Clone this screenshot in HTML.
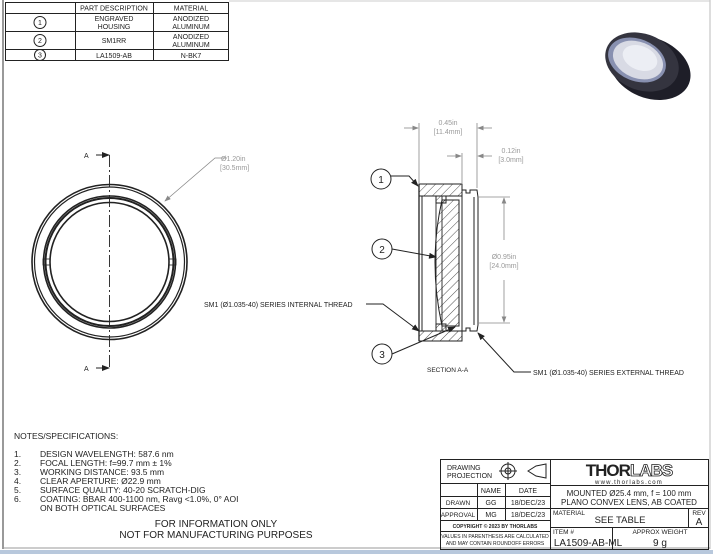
<!DOCTYPE html>
<html><head><style>
html,body{margin:0;padding:0;background:#fff;}
svg{display:block;font-family:"Liberation Sans",sans-serif;}
</style></head><body>
<svg width="713" height="554" viewBox="0 0 713 554" xmlns="http://www.w3.org/2000/svg">
<defs>
<pattern id="h" width="6" height="6" patternUnits="userSpaceOnUse" patternTransform="rotate(45)">
<line x1="0" y1="0" x2="0" y2="6" stroke="#222" stroke-width="0.8"/></pattern>
<marker id="ar" markerWidth="8" markerHeight="6" refX="7" refY="3" orient="auto"><path d="M0,0 L8,3 L0,6z" fill="#222"/></marker>
<marker id="ag" markerWidth="8" markerHeight="6" refX="7" refY="3" orient="auto"><path d="M0,0 L8,3 L0,6z" fill="#888"/></marker>
</defs>
<rect width="713" height="554" fill="#fff"/>
<line x1="3" y1="0" x2="3" y2="549" stroke="#999" stroke-width="2"/>
<line x1="710" y1="0" x2="710" y2="549" stroke="#bbb" stroke-width="1"/>
<line x1="3" y1="548" x2="710" y2="548" stroke="#999" stroke-width="1"/>
<rect x="0" y="550" width="713" height="4" fill="#b8c8dc"/>

<!-- parts table -->
<g stroke="#222" stroke-width="1" fill="none">
<rect x="5.5" y="2.5" width="223" height="58"/>
<line x1="5" y1="13.5" x2="229" y2="13.5"/>
<line x1="5" y1="31.5" x2="229" y2="31.5"/>
<line x1="5" y1="49.5" x2="229" y2="49.5"/>
<line x1="75.5" y1="2" x2="75.5" y2="61"/>
<line x1="153.5" y1="2" x2="153.5" y2="61"/>
<circle cx="40" cy="22.5" r="6"/><circle cx="40" cy="40.5" r="6"/><circle cx="40" cy="55" r="5.5"/>
</g>
<g font-size="7" fill="#222" text-anchor="middle">
<text x="114" y="10.5">PART DESCRIPTION</text><text x="191" y="10.5">MATERIAL</text>
<text x="114" y="21">ENGRAVED</text><text x="114" y="29">HOUSING</text>
<text x="191" y="21">ANODIZED</text><text x="191" y="29">ALUMINUM</text>
<text x="114" y="43">SM1RR</text>
<text x="191" y="39">ANODIZED</text><text x="191" y="47">ALUMINUM</text>
<text x="114" y="58">LA1509-AB</text><text x="191" y="58">N-BK7</text>
<text x="40" y="25" font-size="7">1</text><text x="40" y="43" font-size="7">2</text><text x="40" y="57.5" font-size="7">3</text>
</g>
<line x1="229" y1="1" x2="710" y2="1" stroke="#ccc"/>

<!-- product photo -->
<g>
<ellipse cx="650" cy="68" rx="42" ry="30" transform="rotate(22 650 68)" fill="#1e1e28"/>
<ellipse cx="642" cy="62" rx="38" ry="28" transform="rotate(22 642 62)" fill="#34343f"/>
<ellipse cx="637" cy="60" rx="30" ry="21" transform="rotate(22 637 60)" fill="#8890b0"/>
<ellipse cx="638" cy="60" rx="26" ry="18" transform="rotate(22 638 60)" fill="#d8dae4"/>
<ellipse cx="640" cy="58" rx="18" ry="12" transform="rotate(22 640 58)" fill="#eceef4"/>
</g>

<!-- front view -->
<g stroke="#222" fill="none">
<circle cx="109.5" cy="262" r="77.5" stroke-width="1.6"/>
<circle cx="109.5" cy="262" r="75" stroke-width="1.2"/>
<circle cx="109.5" cy="262" r="66" stroke-width="1.6"/>
<circle cx="109.5" cy="262" r="64" stroke-width="2"/>
<circle cx="109.5" cy="262" r="59.5" stroke-width="1.6"/>
<rect x="43" y="259" width="7" height="6" stroke-width="0.8"/>
<rect x="169" y="259" width="7" height="6" stroke-width="0.8"/>
<line x1="109.5" y1="155" x2="109.5" y2="369" stroke-width="0.9" stroke-dasharray="12,3,2,3"/>
<line x1="96" y1="155" x2="109" y2="155" stroke-width="1" marker-end="url(#ar)"/>
<line x1="96" y1="368" x2="109" y2="368" stroke-width="1" marker-end="url(#ar)"/>
<polyline points="227,158 215,158 165,201" stroke="#888" stroke-width="0.8" marker-end="url(#ag)"/>
</g>
<g font-size="7" fill="#222"><text x="84" y="158">A</text><text x="84" y="371">A</text></g>
<g font-size="7" fill="#999"><text x="221" y="161">Ø1.20in</text><text x="220" y="170">[30.5mm]</text></g>

<!-- section view -->
<g stroke="#222" fill="none" stroke-width="1">
<path d="M419,184 L462,184 L462,196 L422,196 L422,196 L419,196 Z" fill="url(#h)"/>
<path d="M419,331 L462,331 L462,341 L419,341 Z" fill="url(#h)"/>
<line x1="419" y1="184" x2="419" y2="341" stroke-width="1.3"/>
<line x1="422" y1="196" x2="422" y2="331"/>
<path d="M462,190 L466,190 L466,193 L470,193 L470,190 L477,190 L478,197 L478,325 L477,331 L470,331 L470,328 L466,328 L466,331 L462,331"/>
<line x1="474" y1="197" x2="474" y2="325"/>
<line x1="462" y1="196" x2="462" y2="331"/>
<rect x="436" y="196" width="6" height="135" stroke-width="0.9"/>
<rect x="436" y="196" width="10" height="7" fill="url(#h)"/>
<rect x="436" y="324" width="10" height="7" fill="url(#h)"/>
<path d="M442,200 Q428,262 442,326 L459,326 L459,200 Z" fill="url(#h)"/>
<g stroke="#888" stroke-width="0.8">
<line x1="419" y1="123" x2="419" y2="183"/>
<line x1="477" y1="123" x2="477" y2="188"/>
<line x1="462" y1="153" x2="462" y2="183"/>
<line x1="404" y1="128" x2="418" y2="128" marker-end="url(#ag)"/>
<line x1="492" y1="128" x2="478" y2="128" marker-end="url(#ag)"/>
<line x1="447" y1="156" x2="461" y2="156" marker-end="url(#ag)"/>
<line x1="492" y1="156" x2="478" y2="156" marker-end="url(#ag)"/>
<line x1="478" y1="197" x2="510" y2="197"/>
<line x1="478" y1="323" x2="510" y2="323"/>
<line x1="504" y1="240" x2="504" y2="198" marker-end="url(#ag)"/>
<line x1="504" y1="280" x2="504" y2="322" marker-end="url(#ag)"/>
</g>
<circle cx="381" cy="179" r="10"/>
<polyline points="391,176 409,176 418,186" marker-end="url(#ar)"/>
<circle cx="382" cy="249" r="10"/>
<line x1="392" y1="249" x2="436" y2="257" marker-end="url(#ar)"/>
<circle cx="382" cy="354" r="10"/>
<line x1="392" y1="354" x2="455" y2="327" marker-end="url(#ar)"/>
<polyline points="366,304 383,304 419,331" marker-end="url(#ar)"/>
<polyline points="531,372 514,372 478,333" marker-end="url(#ar)"/>
</g>
<g font-size="10" fill="#222" text-anchor="middle"><text x="381" y="183">1</text><text x="382" y="253">2</text><text x="382" y="358">3</text></g>
<g font-size="7" fill="#999" text-anchor="middle">
<text x="448" y="125">0.45in</text><text x="448" y="134">[11.4mm]</text>
<text x="511" y="153">0.12in</text><text x="511" y="162">[3.0mm]</text>
<text x="504" y="259">Ø0.95in</text><text x="504" y="268">[24.0mm]</text>
</g>
<g font-size="7" fill="#222">
<text x="204" y="307">SM1 (Ø1.035-40) SERIES INTERNAL THREAD</text>
<text x="533" y="375">SM1 (Ø1.035-40) SERIES EXTERNAL THREAD</text>
<text x="427" y="372" font-size="6.5">SECTION A-A</text>
</g>

<!-- notes -->
<g font-size="8.5" fill="#222">
<text x="14" y="439">NOTES/SPECIFICATIONS:</text>
<text x="14" y="457">1.</text><text x="40" y="457">DESIGN WAVELENGTH: 587.6 nm</text>
<text x="14" y="466">2.</text><text x="40" y="466">FOCAL LENGTH: f=99.7 mm ± 1%</text>
<text x="14" y="475">3.</text><text x="40" y="475">WORKING DISTANCE: 93.5 mm</text>
<text x="14" y="484">4.</text><text x="40" y="484">CLEAR APERTURE: Ø22.9 mm</text>
<text x="14" y="493">5.</text><text x="40" y="493">SURFACE QUALITY: 40-20 SCRATCH-DIG</text>
<text x="14" y="502">6.</text><text x="40" y="502">COATING: BBAR 400-1100 nm, Ravg &lt;1.0%, 0° AOI</text>
<text x="40" y="511">ON BOTH OPTICAL SURFACES</text>
<text x="216" y="527" font-size="10" text-anchor="middle">FOR INFORMATION ONLY</text>
<text x="216" y="538" font-size="10" text-anchor="middle">NOT FOR MANUFACTURING PURPOSES</text>
</g>

<!-- title block -->
<g stroke="#222" stroke-width="1" fill="none">
<rect x="440.5" y="459.5" width="268" height="90"/>
<line x1="550.5" y1="459" x2="550.5" y2="550"/>
<line x1="440" y1="483.5" x2="550" y2="483.5"/>
<line x1="440" y1="496.5" x2="550" y2="496.5"/>
<line x1="440" y1="508.5" x2="709" y2="508.5"/>
<line x1="440" y1="520.5" x2="550" y2="520.5"/>
<line x1="440" y1="531.5" x2="550" y2="531.5"/>
<line x1="477.5" y1="483" x2="477.5" y2="520"/>
<line x1="505.5" y1="483" x2="505.5" y2="520"/>
<line x1="550" y1="485.5" x2="709" y2="485.5"/>
<line x1="550" y1="527.5" x2="709" y2="527.5"/>
<line x1="688.5" y1="508" x2="688.5" y2="527"/>
<line x1="612.5" y1="527" x2="612.5" y2="550"/>
<circle cx="508" cy="471" r="7"/><circle cx="508" cy="471" r="3"/>
<line x1="499" y1="471" x2="517" y2="471"/><line x1="508" y1="462" x2="508" y2="480"/>
<path d="M528,471 L536,466 L546,464 L546,478 L536,476 Z"/>
</g>
<g fill="#222" text-anchor="middle">
<text x="447" y="470" font-size="7" text-anchor="start">DRAWING</text>
<text x="447" y="478" font-size="7" text-anchor="start">PROJECTION</text>
<text x="491" y="493" font-size="7">NAME</text><text x="528" y="493" font-size="7">DATE</text>
<text x="458" y="505" font-size="6.5">DRAWN</text><text x="491" y="505" font-size="7">GG</text><text x="528" y="505" font-size="7">18/DEC/23</text>
<text x="458" y="517" font-size="6.5">APPROVAL</text><text x="491" y="517" font-size="7">MG</text><text x="528" y="517" font-size="7">18/DEC/23</text>
<text x="495" y="528" font-size="5" font-weight="bold">COPYRIGHT © 2023 BY THORLABS</text>
<text x="495" y="538" font-size="5">VALUES IN PARENTHESIS ARE CALCULATED</text>
<text x="495" y="545" font-size="5">AND MAY CONTAIN ROUNDOFF ERRORS</text>
<text x="629" y="476" font-size="17" font-weight="bold" letter-spacing="-1">THOR<tspan fill="#fff" stroke="#222" stroke-width="0.8">LABS</tspan></text>
<text x="629" y="484" font-size="6" letter-spacing="1.2">www.thorlabs.com</text>
<text x="629" y="496" font-size="8">MOUNTED Ø25.4 mm, f = 100 mm</text>
<text x="629" y="505" font-size="8">PLANO CONVEX LENS, AB COATED</text>
<text x="553" y="515" font-size="6.5" text-anchor="start">MATERIAL</text>
<text x="620" y="523" font-size="9.5">SEE TABLE</text>
<text x="699" y="515" font-size="6.5">REV</text><text x="699" y="525" font-size="10">A</text>
<text x="553" y="534" font-size="6.5" text-anchor="start">ITEM #</text>
<text x="588" y="546" font-size="10">LA1509-AB-ML</text>
<text x="660" y="534" font-size="6.5">APPROX WEIGHT</text>
<text x="660" y="546" font-size="10">9 g</text>
</g>
</svg>
</body></html>
